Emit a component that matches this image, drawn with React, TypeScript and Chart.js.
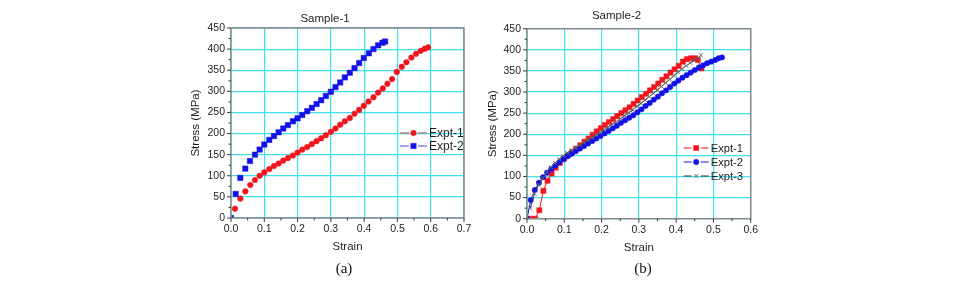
import React, { useEffect, useRef } from 'react';
import { Chart, registerables } from 'chart.js';
import { drawPoint } from 'chart.js/helpers';

Chart.register(...registerables);

const FONT = '"Liberation Sans", Arial, sans-serif';
const GRID = '#3fdfee';
const FRAME = '#8a8a8a';
const TEXT = '#1e1e1e';
const RED = '#f2141c';
const BLUE = '#1212e8';
const DARK = '#3a3a3a';

// ---------- Sample-1 ----------
const S1_E1_STRAIN = [0.012, 0.028, 0.043, 0.058, 0.072, 0.086, 0.100, 0.115, 0.129, 0.143, 0.157, 0.171, 0.186, 0.200, 0.214, 0.229, 0.243, 0.257, 0.271, 0.285, 0.300, 0.314, 0.328, 0.342, 0.357, 0.371, 0.385, 0.399, 0.413, 0.428, 0.442, 0.456, 0.470, 0.484, 0.498, 0.513, 0.527, 0.542, 0.556, 0.570, 0.582, 0.592];
const S1_E1_STRESS = [22, 46, 63, 78, 90, 100, 108, 116, 123, 129, 136, 142, 148, 155, 162, 168, 175, 182, 189, 196, 204, 212, 221, 229, 237, 247, 256, 266, 276, 286, 297, 307, 318, 329, 346, 358, 369, 380, 389, 396, 401, 404];
const S1_E2_STRAIN = [0, 0.014, 0.028, 0.043, 0.057, 0.072, 0.086, 0.100, 0.115, 0.129, 0.143, 0.157, 0.171, 0.186, 0.200, 0.214, 0.229, 0.243, 0.257, 0.271, 0.285, 0.300, 0.314, 0.328, 0.342, 0.357, 0.371, 0.385, 0.399, 0.414, 0.428, 0.442, 0.455, 0.463];
const S1_E2_STRESS = [0, 57, 95, 117, 135, 150, 162, 174, 185, 194, 203, 212, 220, 229, 236, 244, 253, 261, 270, 279, 289, 299, 310, 321, 333, 344, 355, 367, 379, 390, 400, 409, 415, 418];
const S1_X_TICKS = [0, 0.1, 0.2, 0.3, 0.4, 0.5, 0.6, 0.7];

// ---------- Sample-2 ----------
const S2_E1_STRAIN = [0, 0.011, 0.022, 0.033, 0.044, 0.055, 0.066, 0.077, 0.088, 0.099, 0.110, 0.121, 0.132, 0.143, 0.154, 0.165, 0.176, 0.187, 0.198, 0.209, 0.220, 0.231, 0.242, 0.253, 0.264, 0.275, 0.286, 0.297, 0.308, 0.319, 0.330, 0.341, 0.352, 0.363, 0.374, 0.385, 0.396, 0.407, 0.418, 0.429, 0.440, 0.451, 0.458, 0.468];
const S2_E1_STRESS = [0, 0, 0, 20, 66, 90, 107, 121, 132, 142, 150, 158, 166, 174, 182, 190, 199, 207, 215, 222, 229, 236, 243, 250, 257, 264, 272, 280, 288, 296, 304, 312, 320, 329, 337, 346, 354, 362, 372, 378, 380, 380, 376, 356];
const S2_E2_STRAIN = [0, 0.010, 0.021, 0.032, 0.043, 0.054, 0.065, 0.076, 0.087, 0.098, 0.109, 0.120, 0.131, 0.142, 0.153, 0.164, 0.175, 0.186, 0.197, 0.208, 0.219, 0.230, 0.241, 0.252, 0.263, 0.274, 0.285, 0.296, 0.307, 0.318, 0.329, 0.340, 0.351, 0.362, 0.373, 0.384, 0.395, 0.406, 0.417, 0.428, 0.439, 0.450, 0.461, 0.472, 0.483, 0.494, 0.505, 0.514, 0.523];
const S2_E2_STRESS = [0, 44, 68, 85, 98, 109, 118, 126, 134, 141, 148, 154, 160, 166, 172, 178, 184, 190, 196, 202, 208, 214, 220, 227, 233, 239, 245, 252, 259, 267, 274, 282, 289, 297, 304, 312, 320, 327, 334, 340, 346, 352, 358, 363, 368, 372, 376, 380, 382];
const S2_E3_STRAIN = [0.009, 0.020, 0.031, 0.042, 0.053, 0.064, 0.075, 0.086, 0.097, 0.108, 0.119, 0.130, 0.141, 0.152, 0.163, 0.174, 0.185, 0.196, 0.207, 0.218, 0.229, 0.240, 0.251, 0.262, 0.273, 0.284, 0.295, 0.306, 0.317, 0.328, 0.339, 0.350, 0.361, 0.372, 0.383, 0.394, 0.405, 0.416, 0.427, 0.438, 0.449, 0.460, 0.466];
const S2_E3_STRESS = [25, 59, 80, 96, 110, 122, 132, 141, 149, 156, 162, 168, 174, 180, 186, 192, 198, 204, 211, 217, 224, 230, 237, 244, 251, 258, 266, 273, 281, 289, 297, 305, 313, 322, 330, 339, 347, 355, 362, 369, 375, 381, 387];
const S2_X_TICKS = [0, 0.1, 0.2, 0.3, 0.4, 0.5, 0.6];

const Y_TICKS = [0, 50, 100, 150, 200, 250, 300, 350, 400, 450];

const pts = (xs: number[], ys: number[]) => xs.map((x, i) => ({ x, y: ys[i] }));

const frameTicks = {
  id: 'frameTicks',
  afterDraw(chart: any) {
    const { ctx, chartArea: a, scales } = chart;
    const xs = scales.x;
    const ys = scales.y;
    ctx.save();
    ctx.strokeStyle = FRAME;
    ctx.lineWidth = 1.5;
    ctx.strokeRect(a.left, a.top, a.right - a.left, a.bottom - a.top);
    ctx.strokeStyle = '#3a3a3a';
    ctx.lineWidth = 1;
    const xv = xs.ticks.map((t: any) => t.value);
    const yv = ys.ticks.map((t: any) => t.value);
    ctx.beginPath();
    xv.forEach((v: number, i: number) => {
      const p = xs.getPixelForValue(v);
      ctx.moveTo(p, a.bottom);
      ctx.lineTo(p, a.bottom + 4);
      if (i < xv.length - 1) {
        const m = xs.getPixelForValue((v + xv[i + 1]) / 2);
        ctx.moveTo(m, a.bottom);
        ctx.lineTo(m, a.bottom + 2.5);
      }
    });
    yv.forEach((v: number, i: number) => {
      const p = ys.getPixelForValue(v);
      ctx.moveTo(a.left, p);
      ctx.lineTo(a.left - 4, p);
      if (i < yv.length - 1) {
        const m = ys.getPixelForValue((v + yv[i + 1]) / 2);
        ctx.moveTo(a.left, m);
        ctx.lineTo(a.left - 2.5, m);
      }
    });
    ctx.stroke();
    ctx.restore();
  },
};

const insideLegend = {
  id: 'insideLegend',
  afterDraw(chart: any, _args: any, opts: any) {
    const { ctx, chartArea: a } = chart;
    const x0 = a.right - opts.dxRight;
    ctx.save();
    chart.data.datasets.forEach((ds: any, i: number) => {
      const y = a.top + opts.dyTop + i * opts.rowH;
      ctx.strokeStyle = ds.legendLine;
      ctx.lineWidth = 1;
      ctx.beginPath();
      ctx.moveTo(x0, y);
      ctx.lineTo(x0 + opts.len / 2 - opts.gap, y);
      ctx.moveTo(x0 + opts.len / 2 + opts.gap, y);
      ctx.lineTo(x0 + opts.len, y);
      ctx.stroke();
      ctx.fillStyle = ds.pointBackgroundColor;
      ctx.strokeStyle = ds.pointBorderColor;
      ctx.lineWidth = ds.pointBorderWidth;
      drawPoint(ctx, { pointStyle: ds.pointStyle, radius: ds.pointRadius, rotation: 0, borderWidth: ds.pointBorderWidth }, x0 + opts.len / 2, y);
      ctx.fillStyle = TEXT;
      ctx.font = `${opts.fontSize}px ${FONT}`;
      ctx.textBaseline = 'middle';
      ctx.textAlign = 'left';
      ctx.fillText(ds.label, x0 + opts.len + 2, y + 0.5);
    });
    ctx.restore();
  },
};

function makeConfig(p: any): any {
  return {
    type: 'scatter',
    data: { datasets: p.datasets },
    options: {
      responsive: false,
      animation: false,
      events: [],
      layout: { padding: { left: 0, right: p.padRight, top: 0, bottom: 0 } },
      plugins: {
        legend: { display: false },
        tooltip: { enabled: false },
        title: {
          display: true,
          text: p.title,
          color: TEXT,
          font: { family: FONT, size: 11.5, weight: 'normal' },
          padding: p.titlePad,
        },
        insideLegend: p.legend,
      },
      scales: {
        x: {
          type: 'linear',
          min: 0,
          max: p.xTicks[p.xTicks.length - 1],
          afterBuildTicks: (s: any) => {
            s.ticks = p.xTicks.map((v: number) => ({ value: v }));
          },
          afterFit: (s: any) => {
            s.height = p.xHeight;
          },
          ticks: {
            autoSkip: false,
            maxRotation: 0,
            padding: p.xTickPad,
            color: TEXT,
            font: { family: FONT, size: 10.5 },
            callback: (v: any) => Number(v).toFixed(1),
          },
          grid: { color: GRID, lineWidth: 1.2, drawTicks: false },
          border: { display: false },
          title: {
            display: true,
            text: 'Strain',
            color: TEXT,
            font: { family: FONT, size: 11.5 },
            padding: { top: 0, bottom: p.xTitlePad },
          },
        },
        y: {
          type: 'linear',
          min: 0,
          max: 450,
          afterBuildTicks: (s: any) => {
            s.ticks = Y_TICKS.map((v) => ({ value: v }));
          },
          afterFit: (s: any) => {
            s.width = 45;
          },
          ticks: {
            autoSkip: false,
            padding: 6,
            color: TEXT,
            font: { family: FONT, size: 10.5 },
          },
          grid: { color: GRID, lineWidth: 1.2, drawTicks: false },
          border: { display: false },
          title: {
            display: true,
            text: 'Stress (MPa)',
            color: TEXT,
            font: { family: FONT, size: 11.5 },
            padding: { top: p.yTitlePad, bottom: 0 },
          },
        },
      },
    },
    plugins: [frameTicks, insideLegend],
  };
}

function ChartCanvas({ config, left, width, height }: any) {
  const ref = useRef<HTMLCanvasElement>(null);
  useEffect(() => {
    const chart = new Chart(ref.current as HTMLCanvasElement, config);
    return () => chart.destroy();
  }, []);
  return (
    <canvas
      ref={ref}
      width={width}
      height={height}
      style={{ position: 'absolute', left, top: 0, width, height }}
    />
  );
}

const config1 = makeConfig({
  title: 'Sample-1',
  titlePad: { top: 11.8, bottom: 2.4 },
  padRight: 24,
  xTicks: S1_X_TICKS,
  xHeight: 44,
  xTickPad: 4.7,
  xTitlePad: 8.2,
  yTitlePad: 3.2,
  legend: { dxRight: 64, dyTop: 105, rowH: 13, len: 27, gap: 4.5, fontSize: 12 },
  datasets: [
    {
      label: 'Expt-1',
      data: pts(S1_E1_STRAIN, S1_E1_STRESS),
      showLine: false,
      pointStyle: 'circle',
      pointRadius: 2.8,
      pointBackgroundColor: RED,
      pointBorderColor: RED,
      pointBorderWidth: 0.5,
      legendLine: '#c84848',
      order: 2,
    },
    {
      label: 'Expt-2',
      data: pts(S1_E2_STRAIN, S1_E2_STRESS),
      showLine: false,
      pointStyle: 'rect',
      pointRadius: 3.8,
      pointBackgroundColor: BLUE,
      pointBorderColor: BLUE,
      pointBorderWidth: 0.5,
      legendLine: '#4848d8',
      order: 1,
    },
  ],
});

const config2 = makeConfig({
  title: 'Sample-2',
  titlePad: { top: 8.8, bottom: 6.1 },
  padRight: 12,
  xTicks: S2_X_TICKS,
  xHeight: 43.3,
  xTickPad: 5,
  xTitlePad: 6.9,
  yTitlePad: 4.2,
  legend: { dxRight: 67, dyTop: 119.3, rowH: 14, len: 25, gap: 4.5, fontSize: 11.2 },
  datasets: [
    {
      label: 'Expt-1',
      data: pts(S2_E1_STRAIN, S2_E1_STRESS),
      showLine: true,
      borderColor: RED,
      borderWidth: 1,
      pointStyle: 'rect',
      pointRadius: 3.6,
      pointBackgroundColor: RED,
      pointBorderColor: RED,
      pointBorderWidth: 0.5,
      legendLine: RED,
      order: 3,
    },
    {
      label: 'Expt-2',
      data: pts(S2_E2_STRAIN, S2_E2_STRESS),
      showLine: true,
      borderColor: BLUE,
      borderWidth: 1,
      pointStyle: 'circle',
      pointRadius: 2.7,
      pointBackgroundColor: BLUE,
      pointBorderColor: BLUE,
      pointBorderWidth: 0.5,
      legendLine: BLUE,
      order: 2,
    },
    {
      label: 'Expt-3',
      data: pts(S2_E3_STRAIN, S2_E3_STRESS),
      showLine: true,
      borderColor: DARK,
      borderWidth: 1,
      pointStyle: 'crossRot',
      pointRadius: 2.8,
      pointBackgroundColor: '#666666',
      pointBorderColor: '#666666',
      pointBorderWidth: 1,
      legendLine: DARK,
      order: 1,
    },
  ],
});

const capStyle: any = {
  position: 'absolute',
  top: 259,
  width: 40,
  textAlign: 'center',
  fontFamily: '"Liberation Serif", "Times New Roman", serif',
  fontSize: 15,
  lineHeight: '18px',
  color: '#111',
};

export default function App() {
  return (
    <div style={{ position: 'absolute', left: 0, top: 0, width: 955, height: 286, background: '#fff', overflow: 'hidden' }}>
      <ChartCanvas config={config1} left={186} width={302} height={262} />
      <ChartCanvas config={config2} left={482} width={281} height={262} />
      <div style={{ ...capStyle, left: 344 - 20 }}>(a)</div>
      <div style={{ ...capStyle, left: 643 - 20 }}>(b)</div>
    </div>
  );
}
